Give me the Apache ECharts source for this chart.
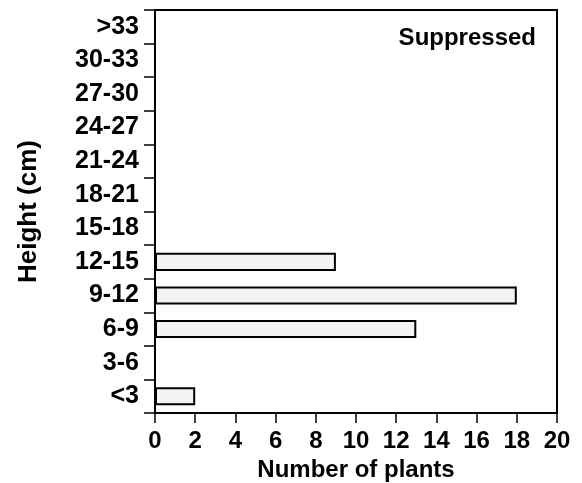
<!DOCTYPE html>
<html>
<head>
<meta charset="utf-8">
<script src="https://cdn.jsdelivr.net/npm/echarts@6/dist/echarts.min.js"></script>
<style>
  html, body { margin: 0; padding: 0; background: #fff; }
  #main { width: 582px; height: 483px; }
</style>
</head>
<body>
<div id="main"></div>
<script>
var chartDom = document.getElementById('main');
var myChart = echarts.init(chartDom);
var option;

const heights = ['<3', '3-6', '6-9', '9-12', '12-15', '15-18', '18-21', '21-24', '24-27', '27-30', '30-33', '>33'];
const plants = [2, 0, 13, 18, 9, 0, 0, 0, 0, 0, 0, 0];
const xTicks = [0, 20, 2];

const font = '"Liberation Sans", Arial, sans-serif';

option = {
  animation: false,
  grid: {
    left: 155,
    right: 25,
    top: 10,
    bottom: 70,
    outerBoundsMode: 'none',
    show: true,
    borderColor: '#000',
    borderWidth: 2
  },
  title: {
    text: 'Suppressed',
    right: 41,
    top: 21,
    textStyle: {
      fontFamily: font,
      fontWeight: 'bold',
      fontSize: 24,
      color: '#000'
    }
  },
  xAxis: {
    type: 'value',
    min: xTicks[0],
    max: xTicks[1],
    interval: xTicks[2],
    name: 'Number of plants',
    nameLocation: 'middle',
    nameGap: 45,
    nameTextStyle: {
      fontFamily: font,
      fontWeight: 'bold',
      fontSize: 24,
      color: '#000'
    },
    axisLine: { show: true, lineStyle: { color: '#000', width: 2 } },
    axisTick: { show: true, length: 10, lineStyle: { color: '#000', width: 1.5 } },
    axisLabel: {
      fontFamily: font,
      fontWeight: 'bold',
      fontSize: 24,
      color: '#000',
      margin: 16
    },
    splitLine: { show: false }
  },
  yAxis: {
    type: 'category',
    data: heights,
    name: 'Height (cm)',
    nameLocation: 'middle',
    nameGap: 113,
    nameRotate: 90,
    nameTextStyle: {
      fontFamily: font,
      fontWeight: 'bold',
      fontSize: 26,
      color: '#000'
    },
    axisLine: { show: true, lineStyle: { color: '#000', width: 2 } },
    axisTick: { show: true, length: 11, lineStyle: { color: '#000', width: 1.5 } },
    axisLabel: {
      fontFamily: font,
      fontWeight: 'bold',
      fontSize: 25,
      color: '#000',
      margin: 16
    }
  },
  series: [
    {
      type: 'bar',
      data: plants,
      barWidth: '54%',
      itemStyle: {
        color: '#f3f3f3',
        borderColor: '#000',
        borderWidth: 2
      }
    }
  ]
};

option && myChart.setOption(option);

window.onresize = function() {
  myChart.resize();
};
</script>
</body>
</html>
